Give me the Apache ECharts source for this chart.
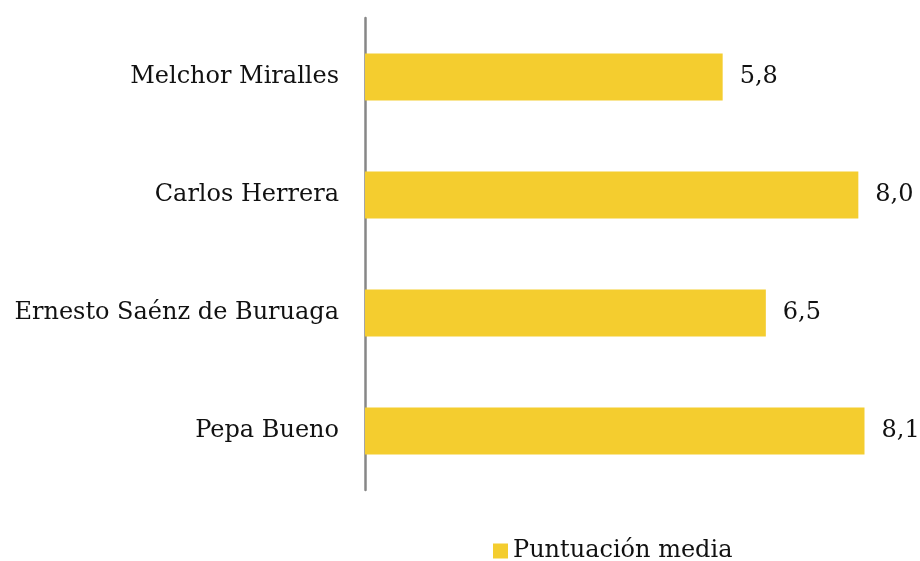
<!DOCTYPE html>
<html><head><meta charset="utf-8">
<script src="https://cdn.jsdelivr.net/npm/echarts@6/dist/echarts.min.js"></script>
<style>html,body{margin:0;padding:0;background:#fff}#c{width:920px;height:561px}</style>
</head><body><div id="c"></div>
<script>
const categories = ["Pepa Bueno", "Ernesto Saénz de Buruaga", "Carlos Herrera", "Melchor Miralles"];
const values = [8.1, 6.5, 8.0, 5.8];
const seriesName = "Puntuación media";
const FONT = "DejaVu Serif";
const chart = echarts.init(document.getElementById('c'), null, {renderer: 'canvas'});
chart.setOption({
  animation: false,
  textStyle: {fontFamily: FONT},
  grid: {left: 365, top: 18, height: 472, width: 555.3, containLabel: false},
  xAxis: {type: 'value', min: 0, max: 9, show: false},
  yAxis: {
    type: 'category', data: categories,
    axisLine: {show: true, lineStyle: {color: '#878787', width: 2.5}},
    axisTick: {show: false},
    axisLabel: {color: '#111', fontFamily: FONT, fontSize: 24, margin: 26, padding: [4, 0, 0, 0]}
  },
  legend: {
    data: [seriesName], top: 534, left: 488,
    icon: 'rect', itemWidth: 15, itemHeight: 15, itemGap: 5,
    textStyle: {color: '#111', fontFamily: FONT, fontSize: 24}
  },
  series: [{
    name: seriesName, type: 'bar', data: values, barWidth: 47,
    itemStyle: {color: '#F4CD2F'},
    label: {show: true, position: 'right', distance: 17, color: '#111', fontFamily: FONT, fontSize: 24,
      padding: [4, 0, 0, 0],
      formatter: p => p.value.toFixed(1).replace('.', ',')}
  }]
});
</script></body></html>
